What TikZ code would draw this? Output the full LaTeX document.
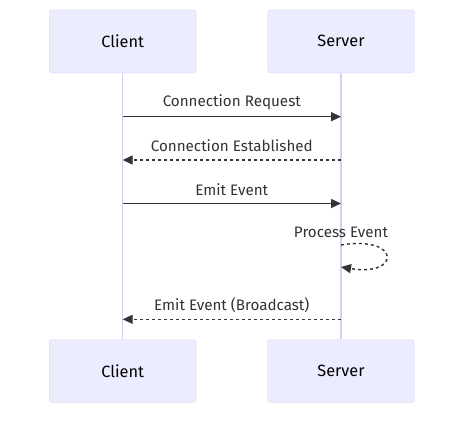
\documentclass[tikz,border=0pt]{standalone}
\usepackage{fontspec}
\setmainfont{Fira Sans}
\usetikzlibrary{arrows.meta, positioning, calc}
\definecolor{actorfill}{HTML}{ECECFF}
\definecolor{actorline}{HTML}{DCD2F5}
\definecolor{lifeline}{HTML}{D8CCF2}
\definecolor{msgcol}{HTML}{333333}
\tikzset{
    actor/.style = {draw = actorline, fill = actorfill, rounded corners = 3pt,
        minimum width = 147pt, minimum height = 63pt, inner sep = 0pt,
        font = \fontsize{16.3}{19}\selectfont},
    msg/.style = {draw = msgcol, line width = 1.4pt, -{Triangle[length=10pt, width=9pt]}},
    reply/.style = {msg, dash pattern = on 3pt off 3pt},
    lbl/.style = {text = msgcol, font = \fontsize{15.2}{18}\selectfont, inner sep = 0pt}
}

\begin{document}
\begin{tikzpicture}[x = 1pt, y = -1pt]
    % Parametri
    \pgfmathsetmacro{\xc}{122.7}
    \pgfmathsetmacro{\xs}{341}
    \pgfmathsetmacro{\xm}{231.8}
    \useasboundingbox (0,0) rectangle (473,421);
    % Attori
    \node[actor] (clientTop) at (\xc,41.3) {Client};
    \node[actor] (serverTop) at (\xs,41.3) {Server};
    \node[actor] (clientBot) at (\xc,371) {Client};
    \node[actor] (serverBot) at (\xs,371) {Server};
    % Linee di vita
    \draw[lifeline, line width = 1.5pt] (clientTop) -- (clientBot);
    \draw[lifeline, line width = 1.5pt] (serverTop) -- (serverBot);
    % Punti sulle linee
    \coordinate (c1) at (\xc,116.7);
    \coordinate (s1) at (\xs,116.7);
    \coordinate (c2) at (\xc,160);
    \coordinate (s2) at (\xs,160);
    \coordinate (c3) at (\xc,203.5);
    \coordinate (s3) at (\xs,203.5);
    \coordinate (s4) at (\xs,245);
    \coordinate (s5) at (\xs,267);
    \coordinate (c6) at (\xc,319.3);
    \coordinate (s6) at (\xs,319.3);
    % Messaggi
    \draw[msg] (c1) -- (s1);
    \node[lbl] (m1) at (\xm,102.5) {Connection Request};
    \draw[reply] (s2) -- (c2);
    \node[lbl] (m2) at (\xm,146) {Connection Established};
    \draw[msg] (c3) -- (s3);
    \node[lbl] (m3) at (\xm,189.5) {Emit Event};
    \draw[reply] (s4) .. controls ($(s4)+(60,-10)$) and ($(s5)+(60,10)$) .. (s5);
    \node[lbl] (m4) at (\xs,232.5) {Process Event};
    \draw[reply] (s6) -- (c6);
    \node[lbl] (m6) at (\xm,305.5) {Emit Event (Broadcast)};
\end{tikzpicture}
\end{document}
